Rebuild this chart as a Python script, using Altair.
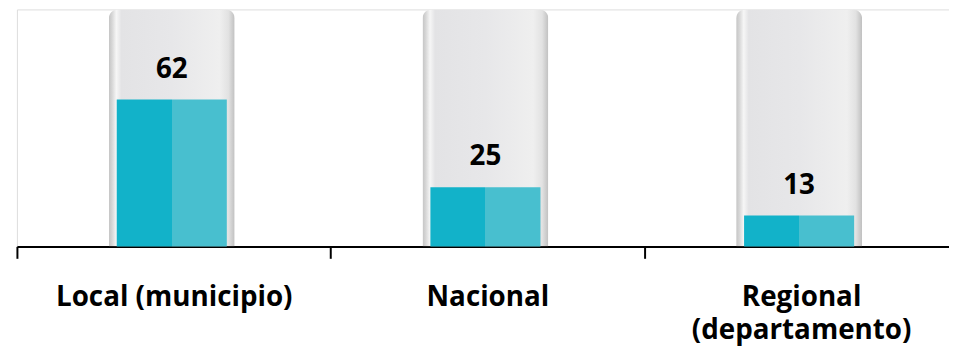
import altair as alt
import pandas as pd

categories = ["Local (municipio)", "Nacional", "Regional (departamento)"]
values = [62, 25, 13]
glass_full = [100, 100, 100]

df = pd.DataFrame({"cat": categories, "val": values, "full": glass_full})

FONT = "Open Sans"

x_enc = alt.X(
    "cat:N",
    sort=None,
    title=None,
    scale=alt.Scale(paddingInner=0, paddingOuter=0),
    axis=alt.Axis(
        tickBand="extent",
        labelAngle=0,
        labelFont=FONT,
        labelFontWeight="bold",
        labelFontSize=28,
        labelColor="black",
        labelPadding=26,
        labelLimit=500,
        labelLineHeight=33,
        labelBaseline="top",
        labelExpr="datum.value == 'Regional (departamento)' ? ['Regional', '(departamento)'] : datum.label",
        domainColor="black",
        domainWidth=2,
        tickColor="black",
        tickWidth=2,
        tickSize=12,
        grid=False,
    ),
)

y_scale = alt.Scale(domain=[0, 100], nice=False, zero=True)

glass = alt.Chart(df).mark_bar(
    size=127,
    xOffset=-2,
    cornerRadiusTopLeft=9,
    cornerRadiusTopRight=9,
    color=alt.Gradient(
        gradient="linear",
        x1=0, x2=1, y1=0, y2=0,
        stops=[
            alt.GradientStop(offset=0, color="#c4c4c4"),
            alt.GradientStop(offset=0.025, color="#d6d6d6"),
            alt.GradientStop(offset=0.06, color="#f6f6f6"),
            alt.GradientStop(offset=0.1, color="#e3e3e5"),
            alt.GradientStop(offset=0.5, color="#e7e7e9"),
            alt.GradientStop(offset=0.88, color="#efefef"),
            alt.GradientStop(offset=0.95, color="#e2e2e2"),
            alt.GradientStop(offset=1, color="#c0c0c0"),
        ],
    ),
).encode(
    x=x_enc,
    y=alt.Y("full:Q", scale=y_scale, axis=None),
)

fill = alt.Chart(df).mark_bar(
    size=111,
    xOffset=-2,
    color=alt.Gradient(
        gradient="linear",
        x1=0, x2=1, y1=0, y2=0,
        stops=[
            alt.GradientStop(offset=0, color="#12b2c9"),
            alt.GradientStop(offset=0.5, color="#12b2c9"),
            alt.GradientStop(offset=0.5, color="#48bfcf"),
            alt.GradientStop(offset=1, color="#48bfcf"),
        ],
    ),
).encode(
    x=alt.X("cat:N", sort=None),
    y=alt.Y("val:Q", scale=y_scale, axis=None),
)

labels = alt.Chart(df).mark_text(
    font=FONT,
    fontWeight="bold",
    fontSize=28,
    color="black",
    baseline="alphabetic",
    dy=-22,
    xOffset=-2,
).encode(
    x=alt.X("cat:N", sort=None),
    y=alt.Y("val:Q", scale=y_scale, axis=None),
    text=alt.Text("val:Q"),
)

chart = (
    alt.layer(glass, fill, labels)
    .properties(
        width=949,
        height=239,
        padding={"left": 9, "top": 0, "right": -9, "bottom": 99},
        autosize=alt.AutoSizeParams(type="none"),
    )
    .configure_view(stroke=None)
    .configure(background="white")
)

chart.save("out.html", embed_options={"renderer": "svg", "actions": False})
